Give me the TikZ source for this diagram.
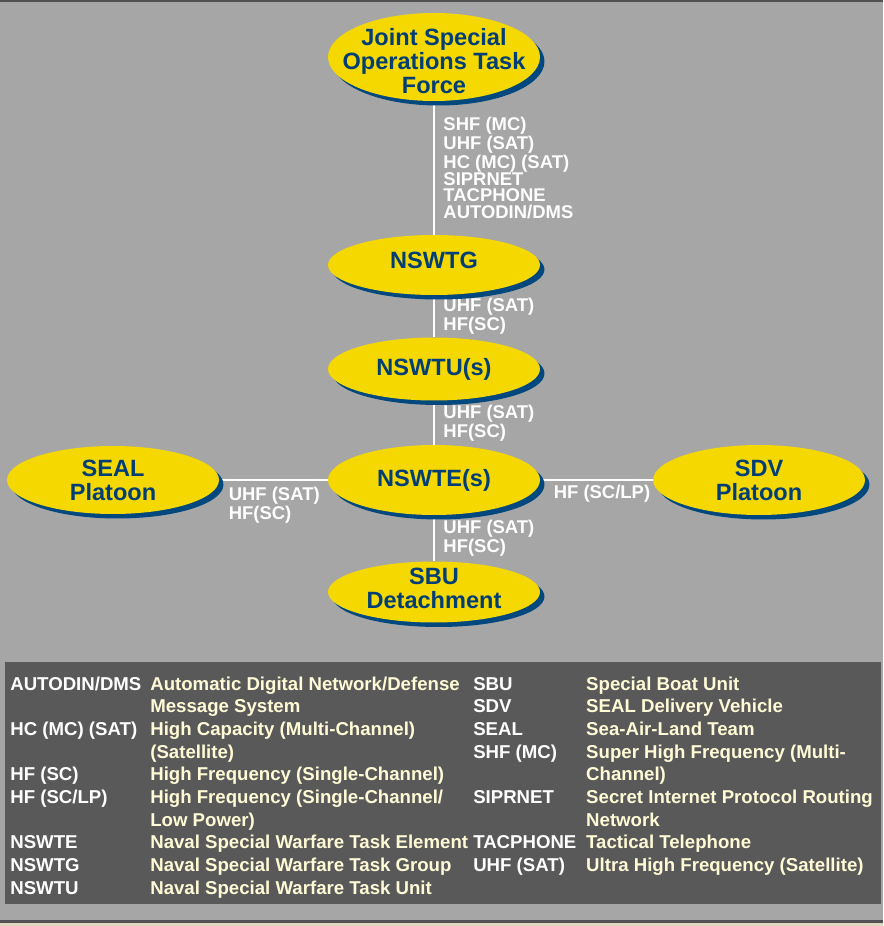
\documentclass[tikz,border=0pt]{standalone}
\usepackage{fontspec}
\setmainfont{Liberation Sans}
\usepackage{array}
\usetikzlibrary{shapes.geometric,shadows,backgrounds}

\definecolor{panelgray}{HTML}{A6A6A6}
\definecolor{legendgray}{HTML}{595959}
\definecolor{rimgray}{HTML}{505050}
\definecolor{sandstrip}{HTML}{DDD8C2}
\definecolor{unityellow}{HTML}{F5D800}
\definecolor{unitblue}{HTML}{003E75}
\definecolor{shadeblue}{HTML}{00487E}
\definecolor{creamtext}{HTML}{FFFBD6}

\tikzset{
  unit/.style={ellipse, fill=unityellow, minimum width=4.24cm, minimum height=1.26cm, inner sep=0pt,
    general shadow={fill=shadeblue, shadow xshift=0.09cm, shadow yshift=-0.09cm}},
  unittext/.style={text=unitblue, font=\bfseries\fontsize{13.4}{13.6}\selectfont, align=center, inner sep=0pt},
  link/.style={draw=white, line width=1.7pt},
  linklabel/.style={text=white, font=\bfseries\fontsize{10.5}{9.6}\selectfont, align=left, inner sep=0pt},
}

\begin{document}
\begin{tikzpicture}[x=0.02cm, y=-0.02cm]
  \useasboundingbox (0,0) rectangle (883,926);
  % Nodes
  \node (jsotf) [unit, minimum height=1.76cm, label={[unittext, yshift=-0.08cm]center:Joint Special\\Operations Task\\Force}] at (434, 57) {};
  \node (nswtg) [unit, minimum height=1.2cm, label={[unittext, yshift=0.1cm]center:NSWTG}] at (434, 265) {};
  \node (nswtu) [unit, label={[unittext]center:NSWTU(s)}] at (434, 369) {};
  \node (nswte) [unit, minimum height=1.4cm, label={[unittext]center:NSWTE(s)}] at (434, 480) {};
  \node (sbu) [unit, minimum height=1.22cm, label={[unittext, yshift=0.08cm]center:SBU\\Detachment}] at (434, 592) {};
  \node (seal) [unit, minimum height=1.36cm, label={[unittext]center:SEAL\\Platoon}] at (113, 480) {};
  \node (sdv) [unit, minimum height=1.4cm, label={[unittext]center:SDV\\Platoon}] at (759, 480) {};
  % Legend
  \node (legendbox) [fill=legendgray, anchor=north west, minimum width=17.52cm, minimum height=4.84cm, inner sep=0pt] at (5, 662) {};
  \node (legend) [anchor=north west, inner sep=0pt, font=\bfseries\fontsize{10.6}{12.9}\selectfont] at (10, 674) {%
    \begin{tabular}{@{}>{\leavevmode\color{white}}p{2.8cm}@{}>{\leavevmode\color{creamtext}}p{6.46cm}@{}>{\leavevmode\color{white}}p{2.26cm}@{}>{\leavevmode\color{creamtext}}p{5.8cm}@{}}
      AUTODIN/DMS & Automatic Digital Network/Defense & SBU & Special Boat Unit \\
       & Message System & SDV & SEAL Delivery Vehicle \\
      HC (MC) (SAT) & High Capacity (Multi-Channel) & SEAL & Sea-Air-Land Team \\
       & (Satellite) & SHF (MC) & Super High Frequency (Multi- \\
      HF (SC) & High Frequency (Single-Channel) & & Channel) \\
      HF (SC/LP) & High Frequency (Single-Channel/ & SIPRNET & Secret Internet Protocol Routing \\
       & Low Power) & & Network \\
      NSWTE & Naval Special Warfare Task Element & TACPHONE & Tactical Telephone \\
      NSWTG & Naval Special Warfare Task Group & UHF (SAT) & Ultra High Frequency (Satellite) \\
      NSWTU & Naval Special Warfare Task Unit & & \\
    \end{tabular}};
  % Links
  \begin{scope}[on background layer]
    \fill[panelgray] (0,0) rectangle (883,926);
    \fill[rimgray] (0,0) rectangle (883,2);
    \fill[rimgray] (0,920) rectangle (883,923);
    \fill[sandstrip] (0,923) rectangle (883,926);
    \draw[link] (jsotf) -- (nswtg) node[linklabel, midway, right, xshift=0.16cm] {SHF (MC)\\UHF (SAT)\\HC (MC) (SAT)\\SIPRNET\\TACPHONE\\AUTODIN/DMS};
    \draw[link] (nswtg) -- (nswtu) node[linklabel, midway, right, xshift=0.16cm] {UHF (SAT)\\HF(SC)};
    \draw[link] (nswtu) -- (nswte) node[linklabel, midway, right, xshift=0.16cm] {UHF (SAT)\\HF(SC)};
    \draw[link] (nswte) -- (sbu) node[linklabel, midway, right, xshift=0.16cm] {UHF (SAT)\\HF(SC)};
    \draw[link] (seal) -- (nswte) node[linklabel, pos=0, below right, xshift=0.16cm, yshift=-0.12cm] {UHF (SAT)\\HF(SC)};
    \draw[link] (nswte) -- (sdv) node[linklabel, pos=0, below right, xshift=0.24cm, yshift=-0.08cm] {HF (SC/LP)};
  \end{scope}
\end{tikzpicture}
\end{document}
